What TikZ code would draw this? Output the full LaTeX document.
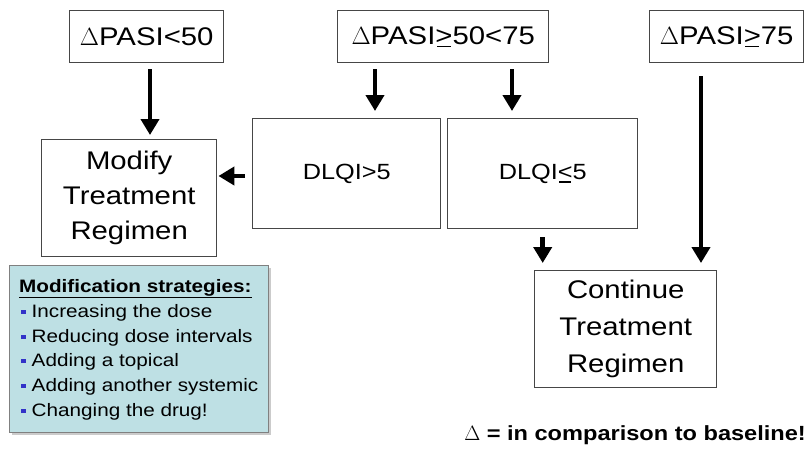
\documentclass[tikz,border=0pt]{standalone}
\usepackage{fontspec}
\setmainfont[FakeStretch=1.15]{Liberation Sans}
\usetikzlibrary{arrows.meta,shadows}
\definecolor{stratfill}{RGB}{190,224,228}
\definecolor{boxline}{RGB}{70,70,70}
\definecolor{bulletblue}{RGB}{50,50,200}
\newsavebox\ulsymbox
\newcommand\ulsym[1]{\sbox\ulsymbox{#1}\rlap{\kern0.1\wd\ulsymbox\rule[-3.2pt]{0.8\wd\ulsymbox}{1.6pt}}\usebox\ulsymbox}
\newcommand\bul{\textcolor{bulletblue}{\rule[3pt]{4.5pt}{4.5pt}}\hspace{6pt}}
\begin{document}
\begin{tikzpicture}[x=1pt,y=-1pt,
  box/.style={draw=boxline, line width=1.4pt, inner sep=0pt, anchor=north west, align=center, font=\fontsize{25.5}{35}\selectfont},
  arr/.style={line width=4.5pt, -{Triangle[width=18pt,length=16pt]}},
  stratline/.style={anchor=base west, inner sep=0pt, font=\fontsize{18}{24}\selectfont}]
\useasboundingbox (0,0) rectangle (808,448);
\fill[white] (0,0) rectangle (808,448);

\node[box, minimum width=154pt, minimum height=52pt] (p50) at (69,10) {$\Delta$PASI<50};
\node[box, minimum width=211pt, minimum height=52pt] (p5075) at (337,10) {$\Delta$PASI\ulsym{>}50<75};
\node[box, minimum width=154pt, minimum height=52pt] (p75) at (649,10) {$\Delta$PASI\ulsym{>}75};

\node[box, minimum width=175pt, minimum height=117pt] (mod) at (41,139) {Modify\\Treatment\\Regimen};
\node[box, minimum width=188pt, minimum height=110pt, font=\fontsize{22}{26}\selectfont] (d1) at (252,118) {DLQI>5};
\node[box, minimum width=190pt, minimum height=110pt, font=\fontsize{22}{26}\selectfont] (d2) at (447,118) {DLQI\ulsym{<}5};
\node[box, minimum width=182pt, minimum height=117pt, font=\fontsize{25.5}{37}\selectfont] (cont) at (534,270) {Continue\\Treatment\\Regimen};

\node[draw=gray, line width=1pt, fill=stratfill, anchor=north west, minimum width=259pt, minimum height=167pt, inner sep=0pt,
  drop shadow={shadow xshift=2pt, shadow yshift=-2pt, fill=gray!80}] (strat) at (9,265) {};
\node[stratline, font=\bfseries\fontsize{18}{24}\selectfont] (sh) at (19,292) {\underline{Modification strategies:}};
\node[stratline] (s1) at (21,317) {\bul Increasing the dose};
\node[stratline] (s2) at (21,342) {\bul Reducing dose intervals};
\node[stratline] (s3) at (21,366) {\bul Adding a topical};
\node[stratline] (s4) at (21,391) {\bul Adding another systemic};
\node[stratline] (s5) at (21,416) {\bul Changing the drug!};

\node[anchor=base east, inner sep=0pt, font=\bfseries\fontsize{20.5}{24}\selectfont] (note) at (806,440) {$\Delta$ = in comparison to baseline!};

\coordinate (a0) at (150,0);
\coordinate (a1) at (375,0);
\coordinate (a2) at (512,0);
\coordinate (a3) at (701,0);
\coordinate (a4) at (0,176);

\draw[arr, shorten <=6pt, shorten >=4pt] (p50.south -| a0) -- (mod.north -| a0);
\draw[arr, shorten <=6pt, shorten >=7pt] (p5075.south -| a1) -- (d1.north -| a1);
\draw[arr, shorten <=6pt, shorten >=7pt] (p5075.south -| a2) -- (d2.north -| a2);
\draw[arr, shorten <=8pt, shorten >=7pt] (d2.south) -- (d2.south |- cont.north);
\draw[arr, shorten <=13pt, shorten >=7pt] (p75.south -| a3) -- (cont.north -| a3);
\draw[arr, shorten <=7pt, shorten >=1pt] (d1.west |- a4) -- (mod.east |- a4);
\end{tikzpicture}
\end{document}
